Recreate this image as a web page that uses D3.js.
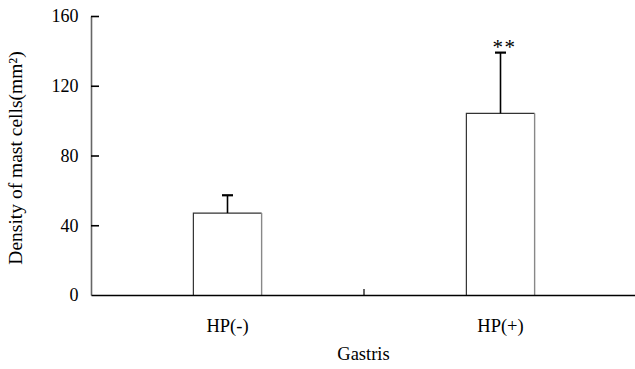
<!DOCTYPE html>
<html>
<head>
<meta charset="utf-8">
<script src="https://cdn.jsdelivr.net/npm/d3@7"></script>
<style>
  html, body { margin: 0; padding: 0; background: #fff; }
  svg { display: block; }
  text { font-family: "Liberation Serif", "Times New Roman", serif; fill: #000; }
</style>
</head>
<body>
<svg id="chart" width="635" height="369"></svg>
<script>
// ---- data ----
const categories = ["HP(-)", "HP(+)"];
const means = [47, 104.2];
const errorTops = [57.2, 139];
const significance = ["", "**"];
const yTicks = [0, 40, 80, 120, 160];
const xTitle = "Gastris";
const yTitle = "Density of mast cells(mm\u00B2)";

// ---- layout ----
const W = 635, H = 369;
const plotLeft = 91, plotRight = 637, plotTop = 16, plotBottom = 295;
const serif = "'Liberation Serif', 'Times New Roman', serif";

const svg = d3.select("#chart");

const y = d3.scaleLinear().domain([0, 160]).range([plotBottom, plotTop]);
const x = d3.scaleBand().domain(categories).range([plotLeft, plotRight]).padding(0);
const barW = x.bandwidth() * 0.25;

// bars
const bars = svg.append("g");
categories.forEach((c, i) => {
  const x0 = x(c) + x.bandwidth() / 2 - barW / 2;
  bars.append("rect")
    .attr("x", x0).attr("y", y(means[i]))
    .attr("width", barW).attr("height", y(0) - y(means[i]))
    .attr("fill", "#fff").attr("stroke", "none");
  bars.append("path")
    .attr("d", `M${x0},${y(0)}V${y(means[i])}H${x0 + barW}`)
    .attr("fill", "none").attr("stroke", "#333").attr("stroke-width", 1.2);
  bars.append("line")
    .attr("x1", x0 + barW).attr("x2", x0 + barW)
    .attr("y1", y(means[i])).attr("y2", y(0))
    .attr("stroke", "#888").attr("stroke-width", 1.4);
});

// error bars (upper only)
const eb = svg.append("g").attr("stroke", "#000");
categories.forEach((c, i) => {
  const cx = x(c) + x.bandwidth() / 2;
  eb.append("line")
    .attr("x1", cx).attr("x2", cx)
    .attr("y1", y(means[i])).attr("y2", y(errorTops[i]))
    .attr("stroke-width", 1.6);
  eb.append("line")
    .attr("x1", cx - 5.5).attr("x2", cx + 5.5)
    .attr("y1", y(errorTops[i])).attr("y2", y(errorTops[i]))
    .attr("stroke-width", 2.2);
  if (significance[i]) {
    svg.append("text")
      .attr("x", cx + 4).attr("y", y(errorTops[i]) + 1.5)
      .attr("text-anchor", "middle")
      .attr("font-family", serif)
      .attr("font-size", 21)
      .attr("letter-spacing", 1.5)
      .text(significance[i]);
  }
});

// y axis
const yAxis = d3.axisLeft(y).tickValues(yTicks).tickSizeInner(-8).tickSizeOuter(0).tickPadding(12.5);
const gy = svg.append("g").attr("transform", `translate(${plotLeft},0)`).call(yAxis);
gy.attr("font-family", serif).attr("font-size", 18);
gy.select(".domain").attr("stroke", "#666").attr("stroke-width", 1.6);
gy.selectAll(".tick line").attr("stroke", "#000").attr("stroke-width", 1.6);
gy.selectAll(".tick text").attr("font-size", 18).attr("font-family", serif);
gy.selectAll(".tick").filter(d => d === 0).select("line").remove();

// x axis
const xAxis = d3.axisBottom(x).tickSize(0).tickPadding(0);
const gx = svg.append("g").attr("transform", `translate(0,${plotBottom})`).call(xAxis);
gx.attr("font-family", serif).attr("font-size", 18.5);
gx.select(".domain").attr("stroke", "#000").attr("stroke-width", 1.3);
gx.selectAll(".tick text").attr("font-size", 18.5).attr("font-family", serif)
  .attr("dy", null).attr("y", 37);
// category separator tick
const sepX = x(categories[1]);
svg.append("line")
  .attr("x1", sepX).attr("x2", sepX)
  .attr("y1", plotBottom).attr("y2", plotBottom - 6)
  .attr("stroke", "#000").attr("stroke-width", 1.2);

// titles
svg.append("text")
  .attr("x", (plotLeft + plotRight) / 2 - 0.5).attr("y", 360)
  .attr("text-anchor", "middle")
  .attr("font-family", serif)
  .attr("font-size", 18.5)
  .text(xTitle);

svg.append("text")
  .attr("transform", `translate(22,158) rotate(-90)`)
  .attr("text-anchor", "middle")
  .attr("font-family", serif)
  .attr("font-size", 19.5)
  .text(yTitle);
</script>
</body>
</html>
